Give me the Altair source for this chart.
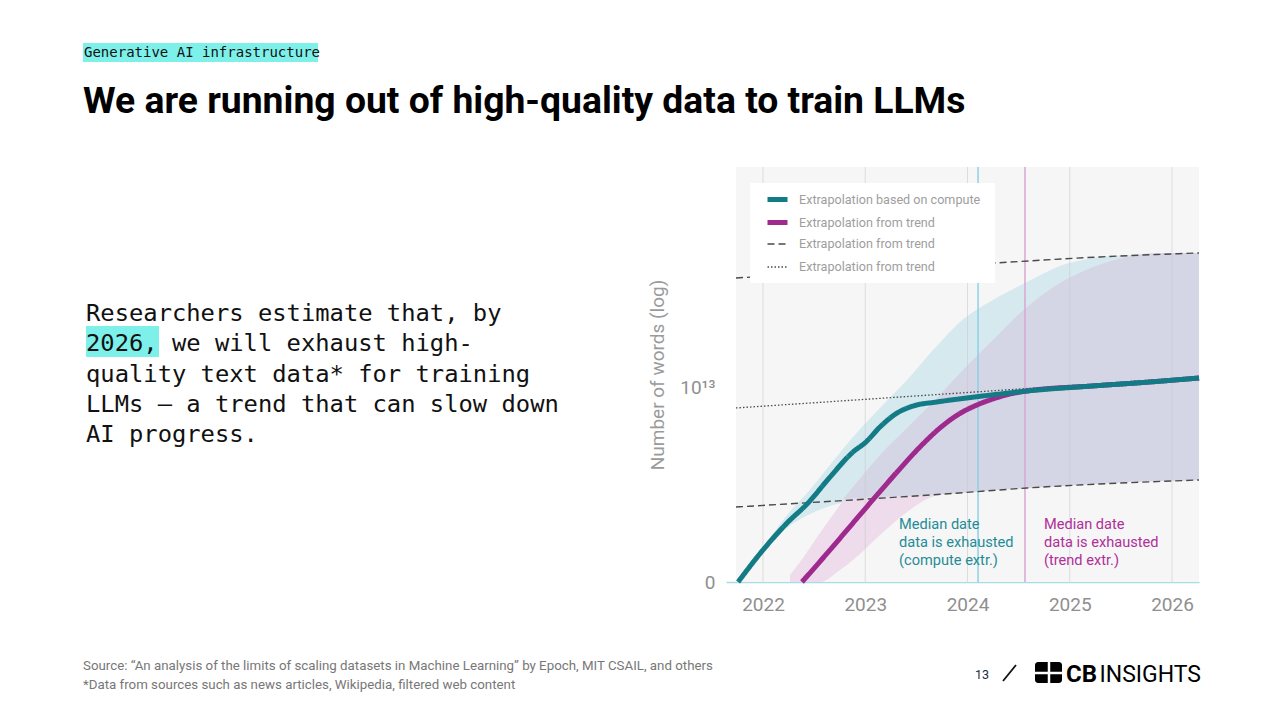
import altair as alt
import pandas as pd

# ---------------- data (x = year, y = log10 of number of words) ----------------
grid_years = [2022, 2023, 2024, 2025, 2026]

compute_year = [2021.756, 2022.000, 2022.235, 2022.440, 2022.655, 2022.880, 2023.007, 2023.144,
                2023.311, 2023.467, 2023.702, 2023.917, 2024.318, 2024.582, 2025.227, 2025.785, 2026.264]
compute_words = [11.000, 11.330, 11.608, 11.814, 12.082, 12.340, 12.443, 12.598,
                 12.742, 12.814, 12.856, 12.887, 12.938, 12.969, 13.021, 13.062, 13.103]

trend_year = [2022.381, 2022.655, 2022.880, 2023.115, 2023.311, 2023.535, 2023.731, 2023.917,
              2024.093, 2024.249, 2024.416, 2024.582, 2025.227, 2025.785, 2026.264]
trend_words = [11.000, 11.330, 11.608, 11.897, 12.134, 12.392, 12.588, 12.732,
               12.825, 12.887, 12.938, 12.969, 13.021, 13.062, 13.103]

stock_median_year = [2021.736, 2026.264]
stock_median_words = [12.794, 13.113]
stock_low_year = [2021.736, 2023.917, 2024.582, 2026.264]
stock_low_words = [11.773, 11.918, 11.969, 12.052]
stock_high_year = [2021.736, 2024.269, 2025.296, 2026.264]
stock_high_words = [14.134, 14.289, 14.351, 14.392]

compute_band_year = [2021.870, 2022.000, 2022.235, 2022.440, 2022.655, 2022.880, 2023.144, 2023.408,
                     2023.682, 2023.927, 2024.249, 2024.582, 2024.905, 2025.227, 2025.560, 2025.883, 2026.264]
compute_band_low = [11.160, 11.299, 11.557, 11.691, 11.784, 11.835, 11.866, 11.887,
                    11.907, 11.918, 11.948, 11.969, 11.990, 12.010, 12.031, 12.041, 12.052]
compute_band_high = [11.210, 11.361, 11.691, 11.928, 12.206, 12.495, 12.794, 13.082,
                     13.412, 13.680, 13.907, 14.093, 14.258, 14.340, 14.371, 14.381, 14.392]

trend_band_year = [2022.264, 2022.362, 2022.557, 2022.753, 2022.880, 2023.144, 2023.408, 2023.682,
                   2023.927, 2024.249, 2024.582, 2024.905, 2025.227, 2025.560, 2025.883, 2026.264]
trend_band_low = [11.000, 11.000, 11.000, 11.124, 11.227, 11.485, 11.722, 11.887,
                  11.918, 11.948, 11.969, 11.990, 12.010, 12.031, 12.041, 12.052]
trend_band_high = [11.072, 11.206, 11.505, 11.794, 11.979, 12.309, 12.588, 12.876,
                   13.155, 13.495, 13.835, 14.082, 14.247, 14.351, 14.392, 14.392]

overlap_year = [2022.782, 2022.880, 2023.144, 2023.408, 2023.682, 2023.927, 2024.249, 2024.582,
                2024.905, 2025.227, 2025.560, 2025.883, 2026.264]
overlap_low = [11.856, 11.861, 11.876, 11.887, 11.902, 11.918, 11.948, 11.969,
               11.990, 12.010, 12.031, 12.041, 12.052]
overlap_high = [11.856, 11.979, 12.309, 12.588, 12.876, 13.155, 13.495, 13.835,
                14.082, 14.247, 14.351, 14.392, 14.392]

median_compute_year = [2024.103]
median_trend_year = [2024.562]

S_COMPUTE = "Extrapolation based on compute"
S_TREND = "Extrapolation from trend"
S_RANGE = "Extrapolation from trend "
S_MEDIAN = "Extrapolation from trend  "
series_order = [S_COMPUTE, S_TREND, S_RANGE, S_MEDIAN]

annot_compute = "Median date\ndata is exhausted\n(compute extr.)"
annot_trend = "Median date\ndata is exhausted\n(trend extr.)"

kicker = "Generative AI infrastructure"
headline = "We are running out of high-quality data to train LLMs"
body = ("Researchers estimate that, by\n2026, we will exhaust high-\nquality text data* for training\n"
        "LLMs \u2014 a trend that can slow down\nAI progress.")
source1 = "Source: \u201cAn analysis of the limits of scaling datasets in Machine Learning\u201d by Epoch, MIT CSAIL, and others"
source2 = "*Data from sources such as news articles, Wikipedia, filtered web content"
page_no = "13"

# ---------------- scales ----------------
X_DOM = [2021.638, 2026.264]
Y_DOM = [11.0, 15.278]
xs = alt.Scale(domain=X_DOM, nice=False, zero=False)
ys = alt.Scale(domain=Y_DOM, nice=False, zero=False)

TEAL = "#137b86"
MAGENTA = "#9e2a8e"

legend = alt.Legend(title=None, orient="none", legendX=39, legendY=20, padding=0,
                    gridAlign="all", symbolType="stroke", symbolSize=400, labelFont="Roboto",
                    labelFontSize=12.6, labelColor="#9e9e9e", labelOffset=9, rowPadding=0,
                    labelLimit=400)
color_enc = alt.Color("series:N", scale=alt.Scale(domain=series_order,
                      range=[TEAL, MAGENTA, "#4a4a4a", "#4a4a4a"]), legend=legend)
dash_enc = alt.StrokeDash("series:N", scale=alt.Scale(domain=series_order,
                          range=[[1, 0], [1, 0], [7, 4], [1.5, 2]]), legend=legend)
width_enc = alt.StrokeWidth("series:N", scale=alt.Scale(type="ordinal", domain=series_order,
                            range=[5, 5, 1.4, 1.3]), legend=legend)

x_axis = alt.Axis(values=grid_years, format="d", labelFont="Roboto", labelFontSize=19,
                  labelColor="#8f8f8f", labelPadding=13, domainColor="#a8dbe6", domainWidth=1.5,
                  ticks=False, grid=False, title=None, labelFlush=False)
y_axis = alt.Axis(values=[11, 13], labelExpr="datum.value == 11 ? '0' : '10\u00b9\u00b3'",
                  labelFont="Roboto", labelFontSize=19, labelColor="#8f8f8f", labelPadding=11,
                  labelFlush=False, domain=False, ticks=False, grid=False,
                  title="Number of words (log)", titleFont="Roboto", titleFontSize=19,
                  titleFontWeight="normal", titleColor="#9a9a9a", titlePadding=12)


def line_layer(years, words, series, interp="monotone"):
    df = pd.DataFrame({"year": years, "words": words, "series": series})
    return alt.Chart(df).mark_line(interpolate=interp).encode(
        x=alt.X("year:Q", scale=xs, axis=x_axis),
        y=alt.Y("words:Q", scale=ys, axis=y_axis),
        color=color_enc, strokeDash=dash_enc, strokeWidth=width_enc)


def band_layer(years, low, high, color):
    df = pd.DataFrame({"year": years, "low": low, "high": high})
    return alt.Chart(df).mark_area(color=color, interpolate="monotone").encode(
        x=alt.X("year:Q", scale=xs, axis=x_axis),
        y=alt.Y("low:Q", scale=ys, axis=y_axis),
        y2="high:Q")


one = pd.DataFrame({"k": [0]})


def slide_text(text, x, y, size, font, color, weight="normal", align="left", line_height=None):
    props = dict(align=align, baseline="alphabetic", font=font, fontSize=size, color=color,
                 fontWeight=weight, lineBreak="\n")
    if line_height is not None:
        props["lineHeight"] = line_height
    return alt.Chart(pd.DataFrame({"t": [text]})).mark_text(**props).encode(
        x=alt.value(x), y=alt.value(y), text="t:N")


def box(x, x2, y, y2, color, radius=0):
    props = dict(color=color)
    if radius:
        props["cornerRadius"] = radius
    return alt.Chart(one).mark_rect(**props).encode(
        x=alt.value(x), x2=alt.value(x2), y=alt.value(y), y2=alt.value(y2))


def seg(x, x2, y, y2, color, w):
    return alt.Chart(one).mark_rule(color=color, strokeWidth=w).encode(
        x=alt.value(x), x2=alt.value(x2), y=alt.value(y), y2=alt.value(y2))


plot_bg = box(10, 473, 0, 415, "#f6f6f6")

compute_band = band_layer(compute_band_year, compute_band_low, compute_band_high, "#d5e9ef")
trend_band = band_layer(trend_band_year, trend_band_low, trend_band_high, "#eedbeb")
overlap_band = band_layer(overlap_year, overlap_low, overlap_high, "#d5d6e5")

grid = alt.Chart(pd.DataFrame({"year": grid_years})).mark_rule(
    color="#c9c9c9", strokeWidth=1, opacity=0.55).encode(x=alt.X("year:Q", scale=xs, axis=x_axis))

med_c = alt.Chart(pd.DataFrame({"year": median_compute_year})).mark_rule(
    color="#8fd0e1", strokeWidth=1.5).encode(x=alt.X("year:Q", scale=xs, axis=x_axis))
med_t = alt.Chart(pd.DataFrame({"year": median_trend_year})).mark_rule(
    color="#d9a7d3", strokeWidth=1.5).encode(x=alt.X("year:Q", scale=xs, axis=x_axis))

high_line = line_layer(stock_high_year, stock_high_words, S_RANGE)
low_line = line_layer(stock_low_year, stock_low_words, S_RANGE)
median_line = line_layer(stock_median_year, stock_median_words, S_MEDIAN, "linear")
trend_line = line_layer(trend_year, trend_words, S_TREND)
compute_line = line_layer(compute_year, compute_words, S_COMPUTE)

legend_box = box(24, 269, 16, 116, "#ffffff")

ann_c = alt.Chart(pd.DataFrame({"t": [annot_compute]})).mark_text(
    align="left", baseline="alphabetic", font="Roboto", fontSize=14.6, lineHeight=18,
    color="#1f8c98", lineBreak="\n").encode(
    x=alt.datum(2023.330), y=alt.datum(11.546), text="t:N")
ann_t = alt.Chart(pd.DataFrame({"t": [annot_trend]})).mark_text(
    align="left", baseline="alphabetic", font="Roboto", fontSize=14.6, lineHeight=18,
    color="#b02f99", lineBreak="\n").encode(
    x=alt.datum(2024.748), y=alt.datum(11.546), text="t:N")

# ---------------- slide furniture (pixel offsets relative to plot origin) ----------------
kicker_bg = box(-643, -408, -124, -105, "#7df0ea")
kicker_txt = slide_text(kicker, -642, -110, 14, "DejaVu Sans Mono", "#111111")
title_txt = slide_text(headline, -643, -54, 37.3, "Roboto", "#000000", weight="bold")
hl_bg = box(-640, -567, 159, 190, "#7df0ea")
body_txt = slide_text(body, -640, 154, 23.8, "DejaVu Sans Mono", "#111111", line_height=30.3)
src1 = slide_text(source1, -643, 503, 13.3, "Roboto", "#777777")
src2 = slide_text(source2, -643, 522, 13.3, "Roboto", "#777777")
pg = slide_text(page_no, 249, 512, 12.5, "Roboto", "#1b2a49")
slash = seg(277, 290, 514, 498, "#111111", 1.8)
logo_box = box(309, 336, 495, 516, "#000000", radius=3)
logo_v = seg(323, 323, 495, 516, "#ffffff", 2.5)
logo_h = seg(309, 336, 506, 506, "#ffffff", 2.5)
logo_cb = slide_text("CB", 340, 515, 24, "Roboto", "#000000", weight="bold")
logo_ins = slide_text("INSIGHTS", 475, 515, 23, "Roboto", "#000000", align="right")

chart = alt.layer(
    plot_bg, compute_band, trend_band, overlap_band, grid, med_c, med_t,
    high_line, low_line, median_line, trend_line, compute_line, legend_box, ann_c, ann_t,
    kicker_bg, kicker_txt, title_txt, hl_bg, body_txt, src1, src2, pg, slash,
    logo_box, logo_v, logo_h, logo_cb, logo_ins,
).properties(
    width=473, height=415,
    autosize=alt.AutoSizeParams(type="none"),
    padding={"left": 718, "top": 159, "right": 60, "bottom": 120},
    background="white",
).configure_view(strokeWidth=0)

chart.save("out.html", embed_options={"renderer": "svg", "actions": False})
